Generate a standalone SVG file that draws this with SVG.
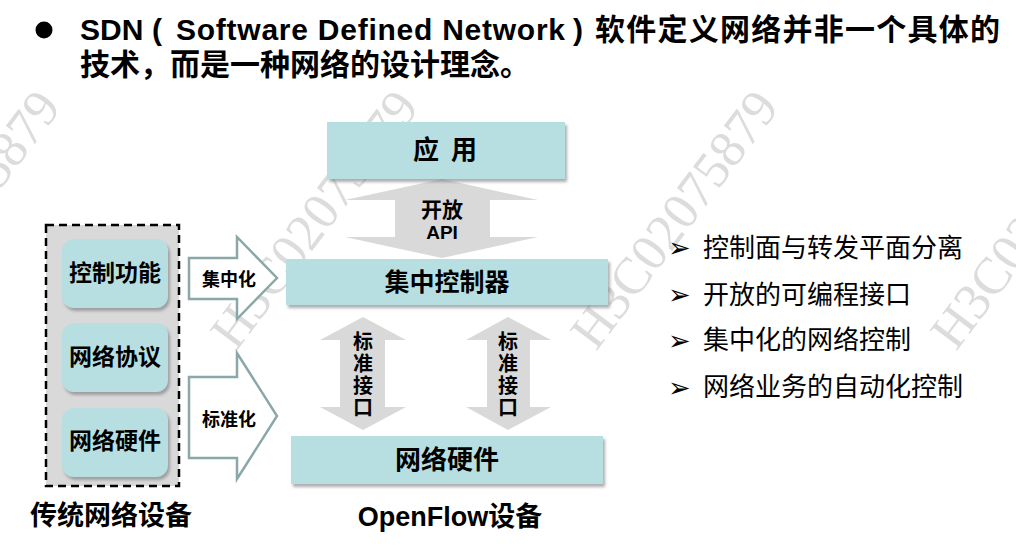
<svg xmlns="http://www.w3.org/2000/svg" width="1016" height="555" viewBox="0 0 1016 555">
<style>
.cjkb{font-family:"Liberation Sans","Noto Sans CJK SC",sans-serif;font-weight:bold;fill:#000}
.cjk{font-family:"Noto Sans CJK SC","Liberation Sans",sans-serif;font-weight:normal;fill:#000}
.wm{font-family:"Liberation Serif",serif;font-size:52px;fill:#dcdcdc}
.bul{font-family:"DejaVu Sans",sans-serif;font-size:27px;fill:#000}
.box{fill:#b7dfe1}
.grayarrow{fill:#d9d9d9}
.blockarrow{fill:#fff;stroke:#8aa8a8;stroke-width:2.5}
.mid{text-anchor:middle}
</style>
<defs>
<filter id="sh" x="-10%" y="-20%" width="120%" height="150%">
<feDropShadow dx="2" dy="3" stdDeviation="1.5" flood-color="#777" flood-opacity="0.6"/>
</filter>
</defs>
<rect width="1016" height="555" fill="#fff"/>
<g id="watermarks">
<text class="wm" transform="translate(-122,352) rotate(-53)">H3C02075879</text>
<text class="wm" transform="translate(236,352) rotate(-53)">H3C02075879</text>
<text class="wm" transform="translate(596,352) rotate(-53)">H3C02075879</text>
<text class="wm" transform="translate(956,352) rotate(-53)">H3C02075879</text>
</g>
<g id="title">
<circle cx="44" cy="30" r="8.5" fill="#000"/>
<text class="cjkb" font-size="30" y="40"><tspan x="80">SDN</tspan><tspan x="152">(</tspan><tspan x="176" textLength="389" lengthAdjust="spacing">Software Defined Network</tspan><tspan x="573">)</tspan><tspan x="595" textLength="405" lengthAdjust="spacing">软件定义网络并非一个具体的</tspan></text>
<text class="cjkb" font-size="30" x="80" y="75">技术，而是一种网络的设计理念。</text>
</g>
<g id="connectors">
<g id="conn-centralize">
<path class="blockarrow" d="M189,258 H237 V237 L277,278 L237,319 V299 H189 Z"/>
<text class="cjkb mid" font-size="18" x="229" y="286">集中化</text>
</g>
<g id="conn-standardize">
<path class="blockarrow" d="M189,377 H237 V353 L277,416 L237,479 V458 H189 Z"/>
<text class="cjkb mid" font-size="18" x="229" y="426">标准化</text>
</g>
<g id="conn-api">
<polygon class="grayarrow" points="442,179 538,200 490,200 490,237 538,237 442,258 345,237 395,237 395,200 345,200"/>
<text class="cjkb mid" font-size="21" x="442" y="217">开放</text>
<text class="cjkb mid" font-size="19" x="442" y="239">API</text>
</g>
<g id="conn-std1">
<polygon class="grayarrow" points="363,317 406,340 385,340 385,407 406,407 363,430 320,407 340,407 340,340 320,340"/>
<text class="cjkb mid" font-size="20" x="363"><tspan x="363" y="349">标</tspan><tspan x="363" y="371">准</tspan><tspan x="363" y="393">接</tspan><tspan x="363" y="415">口</tspan></text>
</g>
<g id="conn-std2">
<polygon class="grayarrow" points="508,317 551,340 530,340 530,407 551,407 508,430 466,407 487,407 487,340 466,340"/>
<text class="cjkb mid" font-size="20" x="508"><tspan x="508" y="349">标</tspan><tspan x="508" y="371">准</tspan><tspan x="508" y="393">接</tspan><tspan x="508" y="415">口</tspan></text>
</g>
</g>
<g id="node-traditional">
<rect x="46" y="225" width="133" height="261" fill="#d9d9d9" stroke="#000" stroke-width="2.5" stroke-dasharray="8,5"/>
<g id="node-control">
<rect class="box" x="62" y="239" width="106" height="69" rx="12" filter="url(#sh)"/>
<text class="cjkb mid" font-size="23" x="115" y="281">控制功能</text>
</g>
<g id="node-protocol">
<rect class="box" x="62" y="323" width="106" height="69" rx="12" filter="url(#sh)"/>
<text class="cjkb mid" font-size="23" x="115" y="365">网络协议</text>
</g>
<g id="node-hw-old">
<rect class="box" x="62" y="408" width="106" height="69" rx="12" filter="url(#sh)"/>
<text class="cjkb mid" font-size="23" x="115" y="449">网络硬件</text>
</g>
<text class="cjkb" font-size="27" x="30" y="525">传统网络设备</text>
</g>
<g id="node-app">
<rect class="box" x="327" y="122" width="238" height="57" filter="url(#sh)"/>
<text class="cjkb" font-size="26" y="159"><tspan x="413">应</tspan><tspan x="451">用</tspan></text>
</g>
<g id="node-controller">
<rect class="box" x="286" y="259" width="322" height="46" filter="url(#sh)"/>
<text class="cjkb mid" font-size="25" x="447" y="291">集中控制器</text>
</g>
<g id="node-hardware">
<rect class="box" x="291" y="436" width="312" height="48" filter="url(#sh)"/>
<text class="cjkb mid" font-size="26" x="447" y="469">网络硬件</text>
</g>
<text class="cjkb mid" font-size="27" x="450" y="526">OpenFlow设备</text>
<g id="features">
<text class="bul" x="668" y="257">➢</text>
<text class="cjk" font-size="26" x="703" y="257">控制面与转发平面分离</text>
<text class="bul" x="668" y="304">➢</text>
<text class="cjk" font-size="26" x="703" y="304">开放的可编程接口</text>
<text class="bul" x="668" y="350">➢</text>
<text class="cjk" font-size="26" x="703" y="349">集中化的网络控制</text>
<text class="bul" x="668" y="397">➢</text>
<text class="cjk" font-size="26" x="703" y="396">网络业务的自动化控制</text>
</g>
</svg>
